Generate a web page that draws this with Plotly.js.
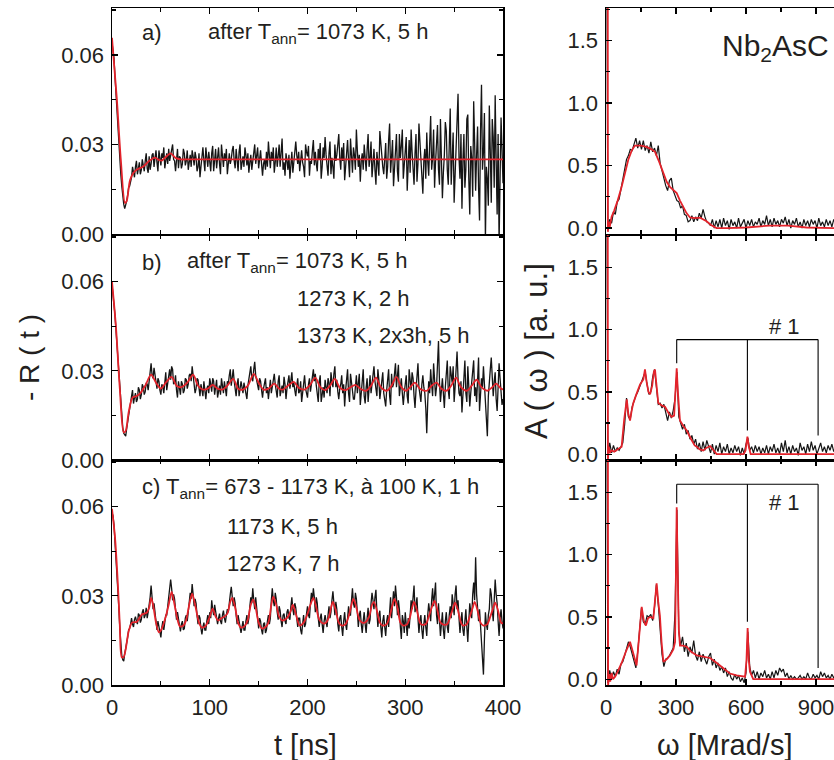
<!DOCTYPE html>
<html>
<head>
<meta charset="utf-8">
<script src="https://cdn.plot.ly/plotly-3.0.1.min.js"></script>
<style>
html,body{margin:0;padding:0;overflow:hidden;background:#fff;}
#chart{width:860px;height:760px;}
</style>
</head>
<body>
<div id="chart"></div>
<script>
// ---------- Data: -R(t), sampled every 1 ns from t = 0 ----------
const rBlackA = [
0.064,0.062,0.059,0.053,0.047,0.041,0.035,0.030,0.025,0.020,0.016,0.012,0.010,0.0085,0.0095,0.011,0.013,0.0155,0.016,0.0175,
0.019,0.0225,0.021,0.019,0.0225,0.0245,0.020,0.022,0.024,0.020,0.0215,0.025,0.023,0.021,0.0245,0.027,0.022,0.0205,0.026,0.0215,
0.0235,0.0265,0.027,0.0225,0.0255,0.028,0.024,0.021,0.028,0.025,0.023,0.027,0.0255,0.029,0.022,0.0245,0.027,0.0235,0.0285,0.0245,
0.026,0.0285,0.030,0.025,0.0245,0.021,0.027,0.0285,0.022,0.026,0.0255,0.022,0.0235,0.0285,0.027,0.023,0.0245,0.028,0.0215,0.025,
0.0265,0.0225,0.028,0.026,0.023,0.0275,0.0255,0.021,0.0225,0.027,0.019,0.0225,0.026,0.029,0.0245,0.021,0.029,0.0265,0.0225,0.0275,
0.0245,0.021,0.027,0.0295,0.021,0.025,0.0285,0.022,0.0265,0.029,0.0235,0.020,0.030,0.0265,0.0225,0.027,0.0245,0.0285,0.020,0.0235,
0.027,0.0235,0.025,0.028,0.0295,0.0245,0.022,0.0285,0.024,0.021,0.0275,0.030,0.0215,0.024,0.026,0.0225,0.029,0.0265,0.023,0.027,
0.0205,0.024,0.0265,0.0215,0.024,0.0275,0.030,0.0235,0.0255,0.029,0.022,0.025,0.028,0.0235,0.0195,0.0235,0.025,0.0215,0.0275,0.0225,
0.031,0.0265,0.022,0.0275,0.0245,0.029,0.0205,0.024,0.029,0.0225,0.026,0.030,0.0225,0.0265,0.032,0.0215,0.024,0.0195,0.027,0.0245,
0.0215,0.0265,0.0185,0.023,0.0275,0.0205,0.025,0.0295,0.031,0.0265,0.0235,0.0275,0.021,0.0245,0.028,0.024,0.0225,0.019,0.030,0.0275,
0.026,0.0295,0.0195,0.0245,0.0235,0.028,0.0315,0.023,0.0275,0.0235,0.021,0.0285,0.025,0.0305,0.0185,0.0225,0.029,0.0255,0.0325,0.0265,
0.0235,0.0195,0.027,0.031,0.020,0.0255,0.0225,0.0185,0.030,0.0245,0.0265,0.0295,0.0335,0.0255,0.0215,0.029,0.0245,0.0305,0.018,0.0225,
0.028,0.0315,0.0245,0.019,0.032,0.0265,0.0205,0.029,0.0265,0.0215,0.035,0.028,0.0225,0.0265,0.0175,0.0245,0.027,0.0215,0.030,0.0255,
0.021,0.0285,0.0335,0.0225,0.0255,0.031,0.019,0.0235,0.0285,0.0215,0.0165,0.0275,0.0245,0.0195,0.0345,0.0295,0.0275,0.0225,0.020,0.0265,
0.0305,0.0185,0.0225,0.0315,0.037,0.0205,0.0245,0.0315,0.016,0.0225,0.0275,0.0335,0.021,0.0175,0.0335,0.0255,0.0295,0.035,0.0185,0.0235,
0.0255,0.0325,0.0145,0.0245,0.0315,0.0205,0.035,0.0275,0.0215,0.0165,0.027,0.0335,0.0175,0.0235,0.037,0.0305,0.0235,0.0195,0.0135,0.0245,
0.0285,0.0185,0.034,0.0245,0.0195,0.0305,0.0395,0.0215,0.0255,0.035,0.0155,0.024,0.030,0.0365,0.0215,0.0165,0.0385,0.0275,0.012,0.0205,
0.0265,0.0375,0.0345,0.0215,0.0165,0.0295,0.042,0.0165,0.0235,0.034,0.0105,0.0195,0.0305,0.0385,0.047,0.0255,0.0185,0.0335,0.0085,0.0245,
0.0335,0.0155,0.0215,0.0385,0.040,0.0185,0.0065,0.0295,0.0255,0.0125,0.0445,0.0305,0.0145,0.0265,0.036,0.0155,0.0045,0.0345,0.050,0.0215,
0.0275,0.0405,-0.002,0.0225,0.0185,0.0095,0.043,0.0275,0.0105,0.0385,0.0325,0.0155,0.0465,0.0245,0.0065,0.0335,-0.003,0.0185,0.039,0.0285,
0.017];
const rBlackB = [
0.059,0.056,0.053,0.049,0.044,0.039,0.034,0.028,0.023,0.019,0.015,0.011,0.009,0.0085,0.008,0.0105,0.013,0.0155,0.018,0.020,
0.0215,0.0235,0.019,0.021,0.0225,0.0195,0.0205,0.0245,0.0235,0.0205,0.022,0.0255,0.0245,0.022,0.023,0.026,0.0255,0.0235,0.027,0.0295,
0.0325,0.0285,0.0275,0.031,0.029,0.0255,0.024,0.0275,0.0265,0.0235,0.022,0.0255,0.0245,0.0225,0.0265,0.0295,0.0235,0.0255,0.0285,0.0305,
0.027,0.0315,0.0305,0.0255,0.026,0.0285,0.0235,0.021,0.0265,0.0245,0.022,0.0265,0.0255,0.0225,0.0235,0.0275,0.027,0.024,0.0255,0.0285,
0.029,0.0265,0.0315,0.0285,0.026,0.0225,0.024,0.0275,0.027,0.0235,0.0215,0.0255,0.024,0.0215,0.0265,0.0235,0.0205,0.024,0.025,0.0225,
0.0275,0.0255,0.023,0.0275,0.0265,0.022,0.0245,0.027,0.021,0.0235,0.025,0.022,0.0275,0.025,0.0225,0.0265,0.0245,0.0215,0.0265,0.0255,
0.0285,0.0305,0.025,0.0275,0.0305,0.0265,0.0235,0.0215,0.0255,0.0275,0.0215,0.024,0.0265,0.0245,0.0225,0.026,0.0245,0.0225,0.0205,0.025,
0.0275,0.0295,0.0315,0.0275,0.0265,0.0305,0.033,0.0285,0.027,0.025,0.0235,0.0275,0.0265,0.0235,0.021,0.024,0.0255,0.0275,0.0225,0.0245,
0.0205,0.0235,0.027,0.0225,0.0245,0.0275,0.029,0.0255,0.0235,0.021,0.0265,0.0285,0.0215,0.024,0.025,0.0225,0.028,0.0255,0.0205,0.024,
0.0265,0.0285,0.024,0.0265,0.0295,0.0245,0.026,0.0235,0.0215,0.025,0.0275,0.0225,0.023,0.0265,0.0195,0.0225,0.0265,0.0285,0.024,0.0225,
0.021,0.0255,0.0275,0.023,0.0255,0.028,0.0305,0.0265,0.029,0.025,0.0225,0.0195,0.0265,0.0285,0.0195,0.0235,0.0245,0.021,0.027,0.0245,
0.0225,0.0275,0.026,0.0215,0.0295,0.0265,0.0245,0.029,0.0315,0.0245,0.027,0.023,0.0205,0.024,0.0255,0.0285,0.0225,0.0255,0.018,0.0235,
0.0265,0.0305,0.0225,0.0195,0.029,0.0255,0.0245,0.0205,0.0205,0.0265,0.0285,0.0225,0.0255,0.029,0.0185,0.0235,0.0275,0.0305,0.0215,0.019,
0.0245,0.0275,0.0195,0.024,0.0285,0.0225,0.026,0.029,0.0315,0.0265,0.0245,0.0215,0.0305,0.027,0.0205,0.0245,0.0265,0.0295,0.0225,0.0195,
0.018,0.0235,0.0275,0.0305,0.0215,0.0185,0.029,0.0245,0.0255,0.0295,0.0325,0.0245,0.0285,0.032,0.0215,0.0255,0.0275,0.0225,0.0185,0.0225,
0.0255,0.0285,0.0215,0.019,0.0305,0.0265,0.0235,0.0295,0.0275,0.0215,0.0175,0.0235,0.0295,0.0325,0.0245,0.0205,0.0195,0.0255,0.0285,0.0245,
0.0225,0.0175,0.009,0.0195,0.0265,0.0225,0.0305,0.0255,0.0215,0.0325,0.0285,0.0215,0.0245,0.031,0.040,0.0265,0.0195,0.0235,0.0275,0.0225,
0.0175,0.0245,0.029,0.0335,0.0235,0.0205,0.0315,0.0285,0.026,0.0315,0.0195,0.0245,0.0335,0.0365,0.0275,0.0225,0.0215,0.0265,0.016,0.0225,
0.0285,0.0335,0.0225,0.0195,0.0315,0.0265,0.018,0.0225,0.0265,0.0305,0.0335,0.0215,0.0245,0.0195,0.029,0.0345,0.0165,0.0215,0.0275,0.0245,
0.0315,0.0255,0.0205,0.0145,0.008,0.0215,0.0275,0.0305,0.0345,0.0245,0.0215,0.0265,0.0295,0.0205,0.0165,0.0245,0.0325,0.0275,0.0235,0.0185,
0.0205];
const rBlackC = [
0.058,0.057,0.054,0.049,0.044,0.039,0.034,0.026,0.019,0.014,0.010,0.0085,0.008,0.0105,0.012,0.0135,0.016,0.0185,0.019,0.0205,
0.0225,0.0205,0.0195,0.022,0.023,0.0215,0.0205,0.024,0.0235,0.021,0.022,0.0245,0.0255,0.0225,0.0235,0.026,0.0225,0.0245,0.0265,0.0295,
0.0335,0.0295,0.0255,0.0275,0.025,0.0215,0.0185,0.0215,0.0195,0.0175,0.016,0.0195,0.0215,0.0185,0.0205,0.0235,0.0235,0.0265,0.0285,0.0315,
0.0355,0.0325,0.0285,0.0305,0.029,0.0255,0.022,0.0245,0.0225,0.0195,0.018,0.0205,0.0215,0.0185,0.019,0.0225,0.0235,0.0215,0.0245,0.0275,
0.031,0.029,0.034,0.0305,0.0265,0.029,0.0275,0.0235,0.0205,0.0235,0.0225,0.019,0.017,0.0195,0.021,0.0185,0.0185,0.0215,0.0235,0.0205,
0.0245,0.0225,0.0285,0.0255,0.0235,0.027,0.025,0.0225,0.0205,0.0225,0.024,0.0215,0.0205,0.0235,0.025,0.0225,0.021,0.0235,0.0255,0.0245,
0.0285,0.0305,0.033,0.0295,0.0265,0.0295,0.0275,0.0235,0.0205,0.0235,0.022,0.0195,0.0175,0.0195,0.0215,0.0185,0.0185,0.0215,0.0235,0.0205,
0.0225,0.0265,0.0295,0.0275,0.0325,0.0285,0.0255,0.0295,0.0265,0.0225,0.019,0.0225,0.0215,0.0185,0.017,0.0205,0.021,0.0175,0.0185,0.0215,
0.0235,0.0205,0.0225,0.0285,0.0325,0.0285,0.0265,0.031,0.029,0.0245,0.022,0.0265,0.025,0.0215,0.0195,0.0235,0.024,0.0215,0.0205,0.0245,
0.0255,0.0225,0.022,0.0265,0.0295,0.0255,0.0235,0.0275,0.026,0.0225,0.0195,0.0225,0.0225,0.0185,0.017,0.0205,0.0235,0.0195,0.0205,0.024,
0.0265,0.0235,0.0225,0.0275,0.031,0.0285,0.0325,0.0295,0.0245,0.0295,0.0275,0.0225,0.0195,0.0225,0.024,0.0205,0.0175,0.0215,0.0235,0.0215,
0.0195,0.0235,0.0265,0.0225,0.0245,0.0285,0.0315,0.0275,0.0235,0.028,0.0255,0.0205,0.018,0.0225,0.0235,0.0195,0.0165,0.0215,0.0245,0.0205,
0.0185,0.0225,0.0265,0.0235,0.0235,0.0285,0.0325,0.0275,0.026,0.031,0.029,0.0245,0.0195,0.0235,0.025,0.0205,0.0175,0.0215,0.0245,0.0205,
0.0175,0.0225,0.026,0.0205,0.022,0.0275,0.031,0.0285,0.0255,0.0295,0.032,0.0245,0.0195,0.0235,0.025,0.0195,0.016,0.0215,0.0235,0.0195,
0.0165,0.0215,0.0235,0.0195,0.0265,0.0295,0.0225,0.0275,0.0315,0.0265,0.0335,0.0295,0.0235,0.0285,0.0255,0.0195,0.0155,0.0235,0.0215,0.0175,
0.0245,0.0205,0.0165,0.0225,0.019,0.0235,0.0285,0.0255,0.0305,0.0335,0.0245,0.0275,0.0295,0.0225,0.0175,0.0215,0.0235,0.0185,0.0155,0.0205,
0.0235,0.0195,0.0165,0.0235,0.0275,0.0245,0.0215,0.0285,0.0325,0.0265,0.0305,0.0345,0.0235,0.0205,0.0275,0.0225,0.0165,0.0205,0.0245,0.0185,
0.0155,0.0215,0.0245,0.0195,0.0175,0.0235,0.0265,0.0225,0.0305,0.0275,0.0235,0.0305,0.0335,0.0255,0.0285,0.0225,0.0175,0.0215,0.0245,0.0185,
0.0165,0.0215,0.0255,0.0195,0.0145,0.0215,0.0275,0.0245,0.0225,0.0305,0.0345,0.0285,0.043,0.0305,0.0265,0.0215,0.0255,0.0195,0.0155,0.0095,
0.0035,0.0155,0.0245,0.0205,0.0185,0.0235,0.0255,0.0325,0.0305,0.0255,0.0215,0.0285,0.0355,0.0305,0.0275,0.0215,0.0165,0.0225,0.0255,0.0215,
0.019];
const tStep = 1;

// ---------- Fitted -R(t) curves ----------
const fitTA = [0,5,9,13.3,15,18.4,22,25.6,32,38,44,48,51,55,60,65,70,80,400];
const fitVA = [0.0657,0.045,0.025,0.0104,0.011,0.018,0.0205,0.0216,0.0226,0.0245,0.0256,0.0248,0.0246,0.0258,0.027,0.0255,0.025,0.025,0.025];
const fitTB = [0,4,8,12,14,17,21,25,29,34,
40,45,50,55,61,66,71,77,83,88,
93,98,103,108,113,118,124,129,134,139,
145,150,155,160,166,171,175,180,186,191,
197,202,208,213,218,223,228,233,239,244,
249,254,260,265,270,275,281,286,291,296,
301,305,310,315,322,327,332,337,342,347,
352,357,363,368,373,378,384,389,393,398,
400];
const fitVB = [0.060,0.045,0.024,0.0093,0.0098,0.016,0.021,0.0215,0.0225,0.025,
0.0287,0.026,0.024,0.026,0.028,0.025,0.0245,0.026,0.0287,0.025,
0.0237,0.024,0.0253,0.024,0.0237,0.025,0.0273,0.024,0.0237,0.025,
0.029,0.026,0.0237,0.024,0.0257,0.024,0.0237,0.025,0.0263,0.0243,
0.0237,0.025,0.0277,0.0245,0.0235,0.025,0.0273,0.0243,0.0235,0.0245,
0.0253,0.024,0.0233,0.025,0.0277,0.0245,0.0233,0.025,0.028,0.0245,
0.0233,0.0245,0.026,0.024,0.0233,0.025,0.026,0.024,0.0233,0.025,
0.0277,0.0245,0.0233,0.025,0.027,0.0245,0.0233,0.0245,0.0257,0.024,
0.0238];
const fitTC = [0,3,6,8,10,12,14,17,20.5,25.5,
30.5,35.5,38,40,42,45,48,51,55,58,
61,64,67,69.6,73,76,79,82,85,89,
92,96,100,103,106,108.6,112,115,118,121,
123,126,129,132,136,139,142,144.5,147,150,
153.5,157,160,163,165,168,171,174,177,180,
183,185,188,192,196,199,203,206,209,212,
216,219,222,224,226,229,232,235,239,242,
245,247,250,253,256,259,263,266,268,271,
274,277,281,284,287,289,292,295,298,302,
305,307,309,312,315,317,321,324,327,330,
333,336,339,343,346,349,351,354,357,359,
363,366,369,371,374,377,380,384,387,390,
392,395,398,400];
const fitVC = [0.0593,0.050,0.034,0.020,0.0093,0.0095,0.012,0.018,0.021,0.0213,
0.0237,0.0243,0.026,0.0293,0.027,0.021,0.0177,0.019,0.023,0.027,
0.0313,0.027,0.022,0.0197,0.020,0.022,0.027,0.0307,0.027,0.021,
0.0193,0.020,0.023,0.0257,0.023,0.0217,0.0225,0.023,0.024,0.028,
0.0293,0.026,0.021,0.0193,0.020,0.022,0.027,0.0287,0.026,0.021,
0.019,0.0195,0.021,0.027,0.0297,0.027,0.023,0.0217,0.022,0.023,
0.025,0.027,0.024,0.020,0.021,0.023,0.027,0.0293,0.026,0.022,
0.0207,0.021,0.023,0.026,0.028,0.025,0.021,0.020,0.0205,0.023,
0.027,0.029,0.026,0.022,0.021,0.021,0.023,0.027,0.028,0.025,
0.021,0.020,0.0205,0.023,0.027,0.029,0.026,0.021,0.020,0.0205,
0.023,0.026,0.028,0.025,0.021,0.0203,0.0205,0.023,0.026,0.0283,
0.025,0.021,0.0203,0.0205,0.023,0.026,0.0277,0.025,0.021,0.020,
0.0205,0.023,0.026,0.028,0.025,0.021,0.020,0.0205,0.023,0.026,
0.0277,0.025,0.021,0.0207];

// ---------- Data: A(omega), sampled every 8 Mrad/s from 0 ----------
const aBlackA = [
4.0,0.01,0.07,0.04,0.13,0.11,0.21,0.23,0.31,0.39,
0.45,0.55,0.58,0.63,0.62,0.68,0.72,0.64,0.70,0.63,
0.70,0.62,0.66,0.60,0.69,0.61,0.64,0.58,0.66,0.52,
0.45,0.40,0.34,0.30,0.38,0.40,0.30,0.26,0.22,0.21,
0.16,0.18,0.11,0.10,0.05,0.06,0.10,0.05,0.09,0.06,
0.12,0.08,0.15,0.09,0.05,0.04,0.02,0.07,0.00,0.06,
0.01,0.07,0.00,0.08,0.02,0.06,-0.01,0.07,0.02,0.05,
0.00,0.08,0.01,0.04,0.07,0.00,0.06,0.02,0.07,0.01,
0.05,0.03,0.08,0.01,0.06,0.03,0.10,0.02,0.07,0.01,
0.08,0.03,0.06,0.01,0.07,0.04,0.09,0.02,0.07,0.00,
0.06,0.03,0.08,0.01,0.05,0.00,0.07,0.02,0.06,0.01,
0.07,0.03,0.06,0.00,0.08,0.02,0.05,0.01,0.07,0.02,
0.06,0.01,0.07,0.03];
const aBlackB = [
4.0,-0.03,0.09,0.01,0.07,0.02,0.05,0.03,0.06,0.09,
0.24,0.45,0.30,0.28,0.38,0.43,0.47,0.50,0.55,0.58,
0.62,0.66,0.56,0.48,0.50,0.62,0.68,0.55,0.40,0.41,
0.37,0.40,0.33,0.27,0.34,0.29,0.35,0.45,0.66,0.30,
0.25,0.20,0.24,0.16,0.19,0.12,0.15,0.08,0.12,0.04,
0.09,0.02,0.10,0.03,0.11,0.06,0.01,0.08,0.00,0.07,
0.02,0.09,0.00,0.06,0.02,0.08,0.00,0.05,0.01,0.07,
0.02,0.06,-0.01,0.05,0.00,0.08,0.13,0.03,0.06,0.01,
0.07,0.02,0.06,0.00,0.05,0.01,0.07,0.00,0.06,0.02,
0.08,0.01,0.05,0.00,0.09,0.02,0.11,0.01,0.06,0.00,
0.07,0.02,0.05,-0.01,0.09,0.03,0.06,0.00,0.08,0.02,
0.10,0.03,0.07,0.00,0.05,0.09,0.02,0.06,0.01,0.07,
0.03,0.08,0.02,0.06];
const aBlackC = [
4.0,-0.03,0.07,0.00,0.06,0.02,0.08,0.04,0.12,0.14,
0.19,0.24,0.30,0.26,0.20,0.14,0.09,0.22,0.40,0.57,
0.46,0.44,0.51,0.50,0.52,0.47,0.58,0.76,0.60,0.42,
0.20,0.10,0.16,0.17,0.19,0.22,0.25,0.55,1.36,0.38,
0.27,0.34,0.22,0.29,0.18,0.26,0.21,0.31,0.19,0.15,
0.22,0.14,0.20,0.16,0.12,0.18,0.21,0.11,0.16,0.09,
0.13,0.07,0.10,0.05,0.09,0.02,0.06,0.01,-0.01,0.04,
0.00,0.03,-0.02,0.01,-0.03,0.05,0.38,0.10,0.03,0.07,
0.01,0.06,0.00,0.05,0.02,0.07,0.01,0.04,0.00,0.06,
0.01,0.07,0.03,0.09,0.06,0.08,0.02,0.05,0.00,0.03,
0.00,0.02,0.00,0.01,0.03,0.00,0.02,0.00,0.05,0.01,
0.00,0.04,0.01,0.03,0.00,0.06,0.02,0.05,0.01,0.03,
0.00,0.04,0.01,0.03];
const wStep = 8;

// ---------- Fitted A(omega) spectra ----------
const fwA = [0,7,8,12,16,20,24,35,50,67,80,96,110,124,150,174,195,210,228,246,
260,274,290,303,317,331,345,360,380,403,420,431,450,474,520,600,700,780,860,984];
const faA = [5,5,-0.03,0.05,0.01,0.06,0.09,0.14,0.22,0.33,0.44,0.55,0.62,0.66,0.66,0.65,0.63,0.61,0.53,0.44,
0.37,0.33,0.30,0.28,0.22,0.17,0.12,0.085,0.08,0.084,0.07,0.055,0.025,0.0,0.0,0.005,0.02,0.02,0.005,0.0];
const fwB = [0,7,8,12,16,24,35,50,67,78,89,96,103,110,117,130,146,160,167,174,
182,189,198,205,210,215,224,240,253,268,281,292,298,303,308,317,330,346,365,380,
389,400,417,430,446,460,474,590,598,606,612,620,984];
const faB = [5,5,-0.05,0.06,0.01,0.03,0.02,0.04,0.06,0.28,0.44,0.32,0.27,0.35,0.41,0.48,0.56,0.60,0.68,0.58,
0.50,0.48,0.55,0.66,0.68,0.58,0.41,0.39,0.38,0.33,0.30,0.31,0.50,0.69,0.50,0.27,0.23,0.19,0.12,0.07,
0.06,0.04,0.03,0.05,0.065,0.03,0.0,0.0,0.03,0.14,0.06,0.0,0.0];
const fwC = [0,7,9,14,18,24,30,39,50,67,85,103,115,131,140,153,162,171,180,189,
203,210,217,224,231,238,246,260,274,289,296,300,303,307,312,317,330,346,365,389,
420,446,475,503,531,560,596,602,607,612,617,631,984];
const faC = [5,5,-0.05,0.04,-0.02,0.05,0.0,0.02,0.06,0.13,0.22,0.30,0.22,0.11,0.3,0.58,0.47,0.43,0.49,0.50,
0.49,0.62,0.77,0.62,0.51,0.30,0.14,0.16,0.19,0.24,0.30,0.9,1.38,0.9,0.40,0.27,0.27,0.26,0.22,0.19,
0.18,0.17,0.13,0.09,0.045,0.03,0.02,0.15,0.41,0.15,0.06,0.0,0.0];

// ---------- Harmonic markers (#1) ----------
const harmonics = [303, 606, 909];
const bracketTopB = 0.92, bracketEndsB = [0.73, 0.19, 0.15];
const bracketTopC = 1.565, bracketEndsC = [1.41, 0.46, 0.09];

// ---------- Labels ----------
const xTitleLeft = 't [ns]';
const xTitleRight = 'ω [Mrad/s]';
const yTitleLeft = '- R ( t )';
const yTitleRight = 'A ( ω ) [a. u.]';

// ---------- Layout geometry ----------
const W = 860, H = 760;
const FONT = 'Liberation Sans, Arial, Helvetica, sans-serif';
const TXT = '#231f20';
const px = v => v / W, py = v => 1 - v / H;
const leftDom = [px(112), px(503)];
const rightDom = [px(606), 1];
const rowDom = [[py(234), py(8)], [py(460), py(235)], [py(685), py(460)]];

const BLACK = '#151515', RED = '#e3232b';

function blackT(y, n) {
  return {type:'scatter', mode:'lines', x0:0, dx:tStep, y:y, xaxis:'x'+(n===1?'':n), yaxis:'y'+(n===1?'':n),
    line:{color:BLACK, width:1.3}, hoverinfo:'skip'};
}
function blackW(y, n) {
  return {type:'scatter', mode:'lines', x0:0, dx:wStep, y:y, xaxis:'x'+n, yaxis:'y'+n,
    line:{color:BLACK, width:1.2}, hoverinfo:'skip'};
}
function red(x, y, n, shape) {
  return {type:'scatter', mode:'lines', x:x, y:y, xaxis:'x'+(n===1?'':n), yaxis:'y'+(n===1?'':n),
    line:{color:RED, width:1.8, shape:shape, smoothing:0.8}, hoverinfo:'skip'};
}

const data = [
  blackT(rBlackA,1), red(fitTA,fitVA,1,'spline'),
  blackT(rBlackB,2), red(fitTB,fitVB,2,'spline'),
  blackT(rBlackC,3), red(fitTC,fitVC,3,'spline'),
  blackW(aBlackA,4), red(fwA,faA,4,'linear'),
  blackW(aBlackB,5), red(fwB,faB,5,'linear'),
  blackW(aBlackC,6), red(fwC,faC,6,'linear')
];

const tickFont = {family:FONT, size:22, color:TXT};
function xAx(dom, range, dtick, minor, anchor, labels) {
  return {domain:dom, range:range, anchor:anchor, dtick:dtick, tick0:0,
    ticks:'inside', ticklen:6, tickwidth:1.3, tickcolor:'#000',
    minor:{dtick:minor, ticks:'inside', ticklen:4, tickwidth:1.2, tickcolor:'#000'},
    showline:true, linecolor:'#000', linewidth:1.5, mirror:'allticks',
    showgrid:false, zeroline:false, showticklabels:labels, tickfont:tickFont, ticklabelstandoff:2};
}
function yAx(dom, range, dtick, minor, anchor, fmt) {
  return {domain:dom, range:range, anchor:anchor, dtick:dtick, tick0:0, tickformat:fmt,
    ticks:'inside', ticklen:6, tickwidth:1.3, tickcolor:'#000',
    minor:{dtick:minor, ticks:'inside', ticklen:4, tickwidth:1.2, tickcolor:'#000'},
    showline:true, linecolor:'#000', linewidth:1.5, mirror:'allticks',
    showgrid:false, zeroline:false, tickfont:tickFont, ticklabelstandoff:2};
}
const yL = [0, 0.0757], yR = [-0.047, 1.76];
const xL = [0, 400], xR = [0, (W - 606) * 300 / 70];

const layout = {
  width:W, height:H, margin:{l:0,r:0,t:0,b:0}, showlegend:false,
  paper_bgcolor:'#fff', plot_bgcolor:'#fff', font:{family:FONT, color:TXT},
  xaxis: xAx(leftDom, xL, 100, 50, 'y', false),
  xaxis2: xAx(leftDom, xL, 100, 50, 'y2', false),
  xaxis3: xAx(leftDom, xL, 100, 50, 'y3', true),
  xaxis4: xAx(rightDom, xR, 300, 150, 'y4', false),
  xaxis5: xAx(rightDom, xR, 300, 150, 'y5', false),
  xaxis6: xAx(rightDom, xR, 300, 150, 'y6', true),
  yaxis: yAx(rowDom[0], yL, 0.03, 0.015, 'x', '.2f'),
  yaxis2: yAx(rowDom[1], yL, 0.03, 0.015, 'x2', '.2f'),
  yaxis3: yAx(rowDom[2], yL, 0.03, 0.015, 'x3', '.2f'),
  yaxis4: yAx(rowDom[0], yR, 0.5, 0.25, 'x4', '.1f'),
  yaxis5: yAx(rowDom[1], yR, 0.5, 0.25, 'x5', '.1f'),
  yaxis6: yAx(rowDom[2], yR, 0.5, 0.25, 'x6', '.1f'),
  shapes: [],
  annotations: []
};

// brackets for "#1"
function bracket(xr, yr, top, ends) {
  const ln = {color:'#000', width:1.1};
  layout.shapes.push({type:'line', xref:xr, yref:yr, x0:harmonics[0], x1:harmonics[2], y0:top, y1:top, line:ln});
  harmonics.forEach((h, i) => {
    layout.shapes.push({type:'line', xref:xr, yref:yr, x0:h, x1:h, y0:top, y1:ends[i], line:ln});
  });
}
bracket('x5','y5', bracketTopB, bracketEndsB);
bracket('x6','y6', bracketTopC, bracketEndsC);

function ann(text, x, y, size, opts) {
  layout.annotations.push(Object.assign({text:text, xref:'paper', yref:'paper', x:px(x), y:py(y),
    xanchor:'left', yanchor:'middle', showarrow:false, font:{family:FONT, size:size, color:TXT}}, opts||{}));
}
ann('a)', 140, 33, 22);
ann('after T<sub>ann</sub>= 1073 K, 5 h', 206, 33, 22);
ann('b)', 140, 262, 22);
ann('after T<sub>ann</sub>= 1073 K, 5 h', 185, 262, 22);
ann('1273 K, 2 h', 295, 298, 22);
ann('1373 K, 2x3h, 5 h', 295, 335, 22);
ann('c) T<sub>ann</sub>= 673 - 1173 K, à 100 K, 1 h', 140, 488, 22);
ann('1173 K, 5 h', 225, 526, 22);
ann('1273 K, 7 h', 225, 563, 22);
ann('Nb<sub>2</sub>AsC', 720, 48, 30);
ann('# 1', 784, 326, 22, {xanchor:'center'});
ann('# 1', 784, 502, 22, {xanchor:'center'});
ann(xTitleLeft, 305, 745, 29, {xanchor:'center'});
ann(xTitleRight, 724, 745, 29, {xanchor:'center'});
ann(yTitleLeft, 29, 358, 28, {xanchor:'center', textangle:-90});
ann(yTitleRight, 537, 351, 31, {xanchor:'center', textangle:-90});

Plotly.newPlot('chart', data, layout, {displayModeBar:false, staticPlot:true});
</script>
</body>
</html>
